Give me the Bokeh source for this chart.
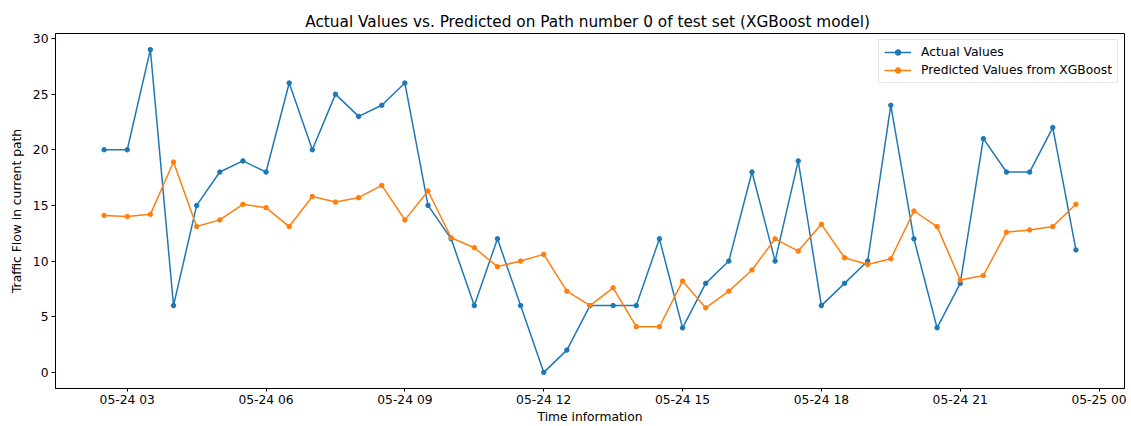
import numpy as np
import pandas as pd
from bokeh.plotting import figure
from bokeh.models import Range1d, FixedTicker, Legend, LegendItem
from bokeh.embed import file_html
from bokeh.resources import INLINE

start_time = "2023-05-24 02:30"
step = "30min"
actual = [20, 20, 29, 6, 15, 18, 19, 18, 26, 20, 25, 23, 24, 26, 15, 12, 6, 12, 6, 0,
          2, 6, 6, 6, 12, 4, 8, 10, 18, 10, 19, 6, 8, 10, 24, 12, 4, 8, 21, 18, 18, 22, 11]
predicted = [14.1, 14.0, 14.2, 18.9, 13.1, 13.7, 15.1, 14.8, 13.1, 15.8, 15.3, 15.7, 16.8,
             13.7, 16.3, 12.1, 11.2, 9.5, 10.0, 10.6, 7.3, 6.0, 7.6, 4.1, 4.1, 8.2, 5.8,
             7.3, 9.2, 12.0, 10.9, 13.3, 10.3, 9.7, 10.2, 14.5, 13.1, 8.3, 8.7, 12.6, 12.8,
             13.1, 15.1]
tick_labels = ["05-24 03", "05-24 06", "05-24 09", "05-24 12", "05-24 15",
               "05-24 18", "05-24 21", "05-25 00"]
y_ticks = [0, 5, 10, 15, 20, 25, 30]

def to_ms(ts):
    return pd.DatetimeIndex(ts).asi8 / 1e6

times = to_ms(pd.date_range(start_time, periods=len(actual), freq=step))
tick_pos = to_ms(pd.to_datetime(["2023-" + t + ":00" for t in tick_labels]))

span = times[-1] - times[0]
ymin, ymax = min(min(actual), min(predicted)), max(max(actual), max(predicted))
yspan = ymax - ymin
xr = Range1d(times[0] - 0.05 * span, times[-1] + 0.05 * span)
yr = Range1d(ymin - 0.05 * yspan, ymax + 0.05 * yspan)

FONT = "DejaVu Sans"
FS = "12.3px"
p = figure(width=1131, height=426, output_backend="svg", toolbar_location=None,
           x_range=xr, y_range=yr,
           min_border_left=55, min_border_right=7, min_border_top=33, min_border_bottom=0,
           title="Actual Values vs. Predicted on  Path number 0 of test set (XGBoost model)")
p.title.align = "center"
p.title.text_font = FONT
p.title.text_font_size = "15.3px"
p.title.text_font_style = "normal"
p.title.text_color = "black"
p.title.standoff = 6

p.xgrid.visible = False
p.ygrid.visible = False
p.outline_line_color = "black"
p.outline_line_width = 1
p.outline_line_alpha = 1

p.xaxis.ticker = FixedTicker(ticks=list(tick_pos))
p.xaxis.major_label_overrides = {float(v): s for v, s in zip(tick_pos, tick_labels)}
p.yaxis.ticker = FixedTicker(ticks=y_ticks)
p.xaxis.axis_label = "Time information"
p.yaxis.axis_label = "Traffic Flow in current path"
for ax in (p.xaxis[0], p.yaxis[0]):
    ax.axis_label_text_font = FONT
    ax.axis_label_text_font_size = FS
    ax.axis_label_text_font_style = "normal"
    ax.axis_label_text_color = "black"
    ax.axis_label_text_line_height = 1.0
    ax.major_label_text_font = FONT
    ax.major_label_text_font_size = FS
    ax.major_label_text_color = "black"
    ax.major_label_text_line_height = 1.0
    ax.major_tick_in = 0
    ax.major_tick_out = 4
    ax.minor_tick_line_color = None
    ax.major_tick_line_color = "black"
    ax.axis_line_color = "black"
    ax.major_label_standoff = 3
p.xaxis.axis_label_standoff = 0
p.xaxis.major_tick_out = 3
p.xaxis.major_label_standoff = 1
p.yaxis.axis_label_standoff = 6

c1, c2 = "#1f77b4", "#ff7f0e"
l1 = p.line(times, actual, line_color=c1, line_width=1.5)
s1 = p.scatter(times, actual, size=4.5, fill_color=c1, line_color=c1)
l2 = p.line(times, predicted, line_color=c2, line_width=1.5)
s2 = p.scatter(times, predicted, size=4.5, fill_color=c2, line_color=c2)

legend = Legend(items=[LegendItem(label="Actual Values", renderers=[l1, s1]),
                       LegendItem(label="Predicted Values from XGBoost", renderers=[l2, s2])],
                location="top_right")
legend.label_text_font = FONT
legend.label_text_font_size = FS
legend.label_text_color = "black"
legend.border_line_color = "#cccccc"
legend.border_line_width = 1
legend.background_fill_alpha = 0.8
legend.glyph_width = 27
legend.glyph_height = 14
legend.label_standoff = 10
legend.spacing = 4
legend.padding = 5
legend.margin = 6
legend.label_height = 14
p.add_layout(legend)

open("out.html", "w").write(file_html(p, INLINE))
